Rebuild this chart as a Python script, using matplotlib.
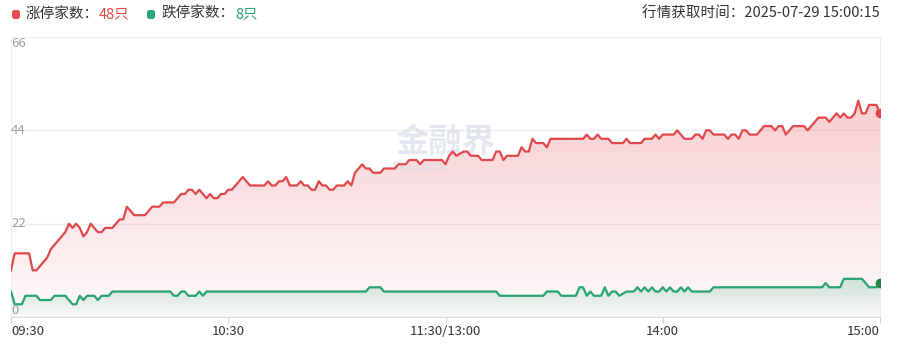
import matplotlib
matplotlib.use("Agg")
import matplotlib.pyplot as plt
import numpy as np
from matplotlib.patches import FancyBboxPatch
from matplotlib.transforms import IdentityTransform

plt.rcParams["font.family"] = ["Noto Sans CJK SC", "DejaVu Sans"]

# trading minutes since 09:30 (lunch break removed) and counts at each turn of the line
up_minutes = [0, 1, 5, 6, 7, 10, 11, 15, 16, 17, 18, 19, 20, 21, 22, 24, 25, 26, 28,
              30, 31, 32, 34, 37, 39, 41, 42, 45, 47, 48, 49, 50, 51, 52, 54, 55, 56,
              57, 58, 59, 60, 61, 64, 66, 70, 71, 72, 73, 74, 75, 76, 77, 79, 80, 81,
              82, 83, 84, 85, 86, 87, 88, 89, 90, 92, 93, 94, 95, 97, 98, 99, 100, 102,
              103, 106, 107, 109, 110, 112, 113, 114, 119, 120, 121, 122, 123, 125, 126,
              127, 129, 130, 133, 134, 135, 136, 137, 140, 141, 142, 143, 144, 145, 147,
              148, 149, 158, 159, 160, 161, 162, 163, 165, 166, 169, 170, 171, 174, 175,
              177, 178, 179, 180, 183, 184, 186, 188, 189, 190, 191, 192, 193, 194, 197,
              198, 199, 200, 201, 202, 203, 204, 206, 208, 210, 211, 212, 213, 214, 216,
              219, 220, 223, 225, 226, 228, 229, 230, 231, 232, 233, 234, 235, 236, 237,
              239, 240]
up_counts = [11, 15, 15, 11, 11, 14, 16, 20, 22, 21, 22, 21, 19, 20, 22, 20, 20, 21, 21,
             23, 23, 26, 24, 24, 26, 26, 27, 27, 29, 29, 30, 30, 29, 30, 28, 29, 28,
             28, 29, 29, 30, 30, 33, 31, 31, 32, 31, 31, 32, 32, 33, 31, 31, 32, 31,
             31, 30, 30, 32, 31, 31, 30, 30, 31, 31, 32, 31, 34, 36, 35, 35, 34, 34,
             35, 35, 36, 36, 37, 37, 36, 37, 37, 36, 38, 39, 38, 39, 39,
             38, 38, 37, 37, 39, 39, 37, 38, 38, 40, 39, 39, 42, 41, 41,
             40, 42, 42, 43, 42, 42, 43, 42, 42, 41, 41, 42, 41, 41, 42,
             42, 43, 42, 43, 43, 44, 42, 42, 43, 43, 42, 44, 44, 43, 43,
             42, 43, 43, 42, 44, 44, 43, 43, 45, 45, 44, 45, 45, 43, 45,
             45, 44, 47, 47, 46, 48, 47, 48, 47, 47, 48, 51, 48, 48, 50,
             50, 48]

down_minutes = [0, 1, 3, 4, 7, 8, 11, 12, 15, 17, 18, 19, 20, 21, 23, 24, 25, 27, 28,
                44, 45, 46, 47, 48, 49, 51, 52, 53, 54, 98, 99, 102, 103, 134, 135, 147,
                148, 151, 152, 156, 157, 158, 159, 160, 161, 163, 164, 165, 166, 167, 168,
                170, 172, 173, 174, 175, 176, 177, 178, 179, 180, 181, 182, 183, 184, 185,
                186, 187, 188, 193, 194, 224, 225, 226, 229, 230, 235, 237, 239, 240]
down_counts = [6, 3, 3, 5, 5, 4, 4, 5, 5, 3, 3, 5, 4, 5, 5, 4, 5, 5, 6,
               6, 5, 5, 6, 6, 5, 5, 6, 5, 6, 6, 7, 7, 6, 6, 5, 5,
               6, 6, 5, 5, 7, 7, 5, 6, 5, 5, 7, 5, 6, 6, 5,
               6, 6, 7, 6, 7, 6, 7, 6, 6, 7, 6, 7, 6, 6, 7,
               6, 7, 6, 6, 7, 7, 8, 7, 7, 9, 9, 7, 7, 8]

tick_minutes = [0, 60, 120, 180, 240]
tick_labels = ["09:30", "10:30", "11:30/13:00", "14:00", "15:00"]
y_ticks = [0, 22, 44, 66]

RED = "#e0484c"
GREEN = "#28a374"
W, H = 897, 350


def gradient_area(ax, x, y, rgb, a_top, a_bot, z):
    poly = ax.fill_between(x, y, 0, facecolor="none", edgecolor="none")
    grad = np.zeros((256, 1, 4))
    grad[:, 0, :3] = rgb
    grad[:, 0, 3] = np.linspace(a_top, a_bot, 256)
    im = ax.imshow(grad, extent=[min(x), max(x), 0, max(y)], aspect="auto",
                   origin="upper", zorder=z, interpolation="bilinear")
    im.set_clip_path(poly.get_paths()[0], transform=ax.transData)


fig = plt.figure(figsize=(W / 100, H / 100), dpi=100)
ax = fig.add_axes([11 / W, 33 / H, 869 / W, 280 / H])

gradient_area(ax, up_minutes, up_counts, (0.90, 0.35, 0.40), 0.30, 0.03, 1)
gradient_area(ax, down_minutes, down_counts, (0.16, 0.64, 0.45), 0.22, 0.02, 1.2)

ax.text(120, 41, "金融界", ha="center", va="center", fontsize=24, fontweight="bold",
        color="#d8dfea", alpha=0.7, zorder=1.5)
ax.text(112, 35.5, "JRJ.com", ha="center", va="center", fontsize=9, fontweight="bold",
        color="#d8dfea", alpha=0.7, zorder=1.5)

ax.plot(up_minutes, up_counts, color=RED, lw=1.6, zorder=3)
ax.plot(down_minutes, down_counts, color=GREEN, lw=1.6, zorder=3)
ax.plot(up_minutes[-1], up_counts[-1], "o", color=RED, ms=6, zorder=4)
ax.plot(down_minutes[-1], down_counts[-1], "o", color="#1f8a3e", ms=6, zorder=4)

ax.set_xlim(0, 240)
ax.set_ylim(0, 66)

ax.set_yticks(y_ticks)
ax.yaxis.grid(True, color="#eeeeee", lw=1)
ax.set_axisbelow(True)
ax.tick_params(axis="y", length=0, labelleft=False)
ytr = ax.get_yaxis_transform()
for v in y_ticks:
    va = "top" if v == 66 else ("bottom" if v == 0 else "center")
    ax.text(0.0, v, str(v), transform=ytr, ha="left", va=va, fontsize=9.5,
            color="#a0a0a0", zorder=5)

ax.set_xticks(tick_minutes, tick_labels)
ax.tick_params(axis="x", length=4, width=0.8, color="#d0d0d0", labelsize=9.5,
               labelcolor="#333333", pad=1.5)
labels = ax.get_xticklabels()
labels[0].set_ha("left")
labels[-1].set_ha("right")

for side in ["left", "right"]:
    ax.spines[side].set_color("#eeeeee")
ax.spines["top"].set_visible(False)
ax.spines["bottom"].set_color("#dddddd")

# header
renderer = fig.canvas.get_renderer()


def header_part(x, s, color):
    t = fig.text(x / W, 336 / H, s, fontsize=10.5, color=color, va="center", ha="left")
    return x + t.get_window_extent(renderer=renderer).width


def header_dot(x, color):
    fig.add_artist(FancyBboxPatch((x, 331), 8, 9, boxstyle="round,pad=0,rounding_size=2.5",
                                  facecolor=color, edgecolor="none",
                                  transform=IdentityTransform()))


header_dot(12, "#e84b50")
x = header_part(26, "涨停家数：", "#333333")
header_part(x, "48只", RED)
header_dot(147, "#2aa876")
x = header_part(162, "跌停家数：", "#333333")
header_part(x, "8只", GREEN)
fig.text(880 / W, 336 / H, "行情获取时间：2025-07-29 15:00:15", fontsize=10.5,
         color="#333333", va="center", ha="right")

fig.savefig("out.png", dpi=100)
